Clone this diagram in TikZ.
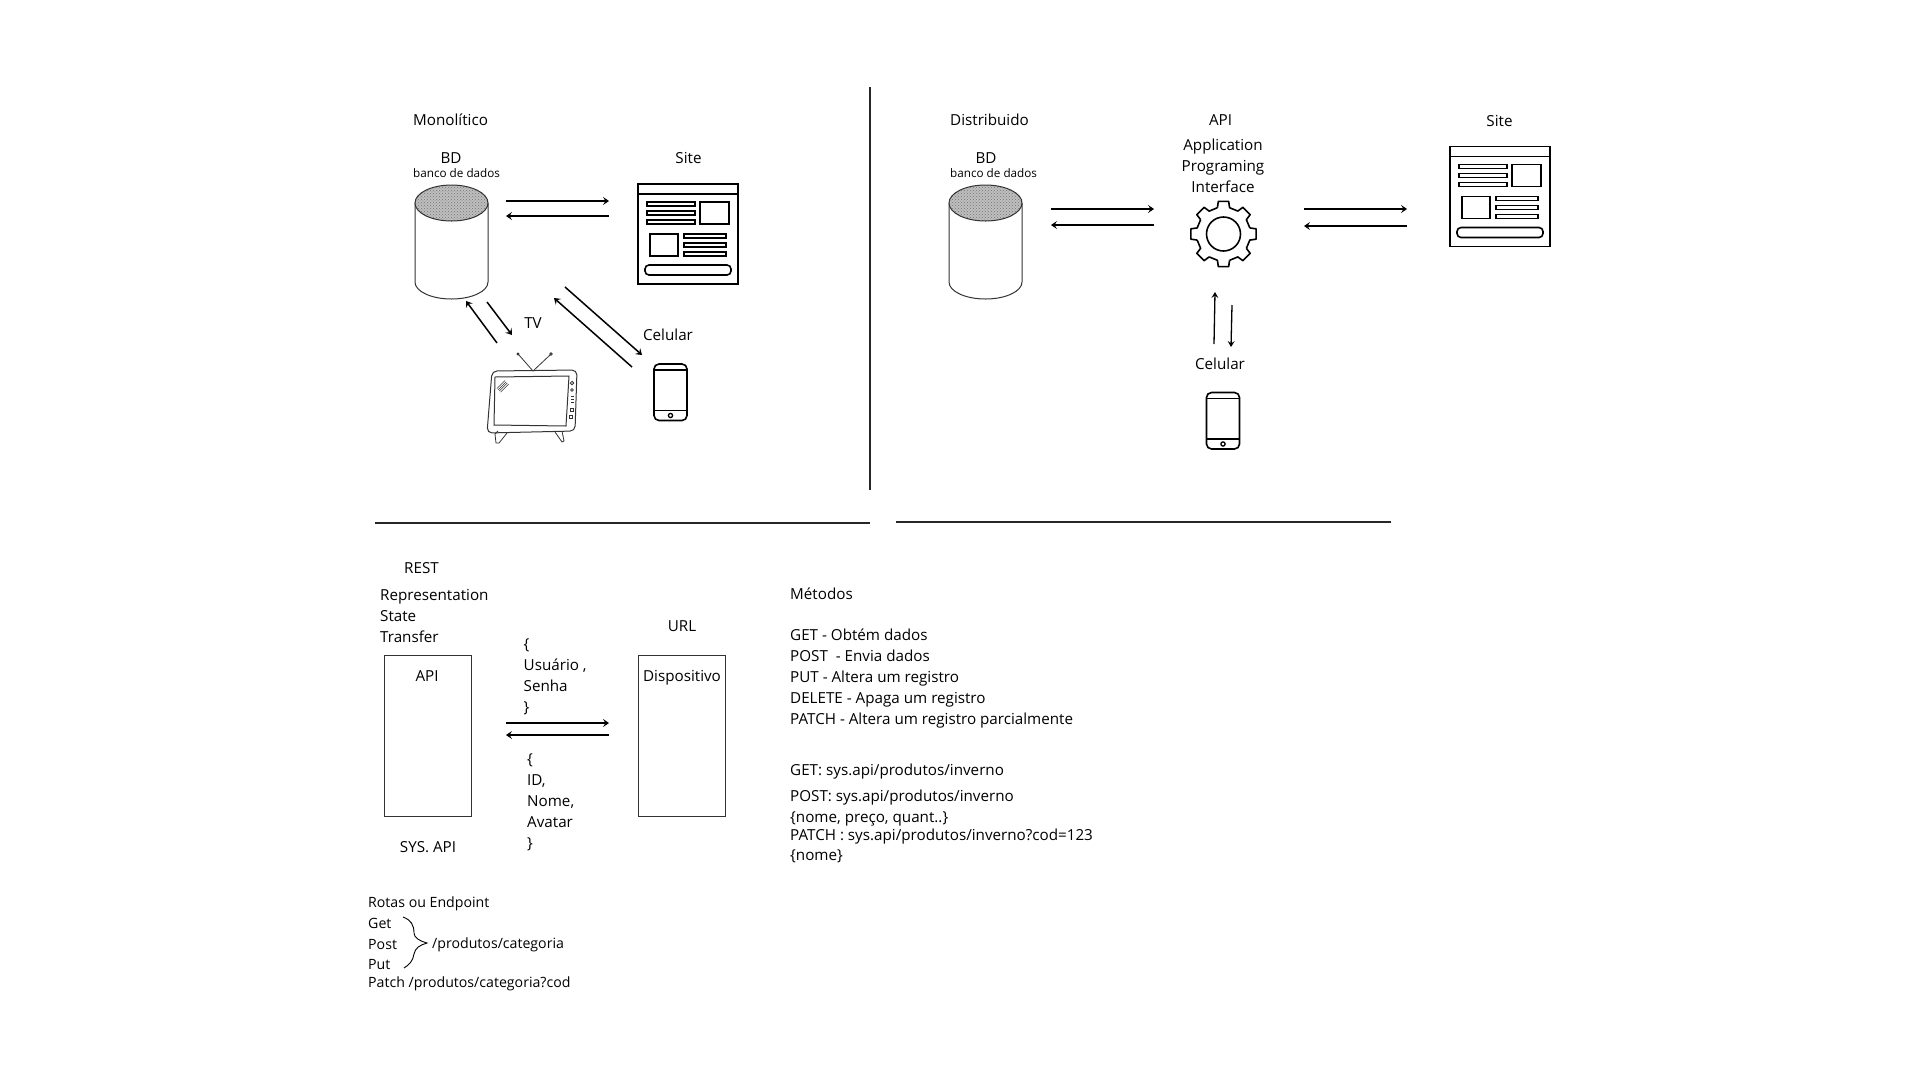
\documentclass[tikz,border=0pt]{standalone}
\usepackage{fontspec}
\setmainfont{Open Sans}
\usetikzlibrary{arrows.meta, positioning, patterns}

\tikzset{
    texto/.style={font=\fontsize{15.2}{21}\selectfont, inner sep=0pt, text height=11pt, text depth=0pt},
    textoesq/.style={texto, anchor=west},
    lista/.style={font=\fontsize{15.2}{21}\selectfont, inner sep=0pt, anchor=west, align=left},
    menor/.style={font=\fontsize{14.15}{20}\selectfont, inner sep=0pt, text height=10pt, text depth=0pt, anchor=west},
    miudo/.style={font=\fontsize{11.7}{15}\selectfont, inner sep=0pt, text height=9pt, text depth=0pt, anchor=west},
    seta/.style={-{Stealth[length=6pt,width=8pt,inset=2.5pt]}, line width=1.5pt},
    setafina/.style={-{Stealth[length=6pt,width=7pt,inset=2.5pt]}, line width=1.3pt},
    divisor/.style={line width=2pt, black!85},
    caixa/.style={draw, line width=1pt, black!80},
    %database centred on the top ellipse
    banco/.pic={
        \draw [line width=1pt, black!80] (-36.5,0) -- (-36.5,79) arc[start angle=180, end angle=360, x radius=36.5, y radius=-17] -- (36.5,0);
        \fill [black!25] (0,0) ellipse [x radius=36.5, y radius=18];
        \draw [line width=1pt, black!80, pattern=crosshatch dots, pattern color=black!55] (0,0) ellipse [x radius=36.5, y radius=18];
    },
    %browser window, from its top left corner
    janela/.pic={
        \begin{scope}[line width=1.6pt]
        \draw (0,0) rectangle (100,100);
        \draw (0,10) -- (100,10);
        \foreach \y in {18,27,36} \draw (9,\y) rectangle (57,\y+4);
        \draw (62,18) rectangle (91,40);
        \draw (12,50) rectangle (40,72);
        \foreach \y in {50,59,68} \draw (46,\y) rectangle (88,\y+4);
        \draw [rounded corners=4pt] (7,81) rectangle (93,91);
        \end{scope}
    },
    %phone, from its top left corner
    fone/.pic={
        \begin{scope}[line width=1.6pt]
        \draw [rounded corners=5pt] (0,0) rectangle (33,56.5);
        \draw (0,6) -- (33,6);
        \draw (0,46.5) -- (33,46.5);
        \draw [line width=1.3pt] (16.5,51.5) circle (2.1);
        \end{scope}
    },
}

\begin{document}
\begin{tikzpicture}[x=1pt, y=-1pt]
    \useasboundingbox (0,0) rectangle (1920,1080);

    %monolithic side
    \node (monolitico) [textoesq] at (413,120) {Monolítico};
    \node (bdA) [texto] at (451,158) {BD};
    \node (bancoA) [miudo] at (413,173) {banco de dados};
    \node (siteA) [texto] at (688.5,158) {Site};
    \node (tvA) [texto] at (533,323) {TV};
    \node (celularA) [texto] at (668,335) {Celular};
    \pic at (451.5,203) {banco};
    \pic at (638,184) {janela};
    \pic at (654,364) {fone};

    %television
    \begin{scope}[line width=.8pt, black!80]
        \draw [rounded corners=5pt, line width=1pt] (492,371) -- (577,370) -- (575,431) -- (487,433) -- cycle;
        \draw [line width=1pt] (495,377) -- (569,376) -- (566,426) -- (494,425) -- cycle;
        \draw (533,371) -- (518.5,354.5);
        \draw (533,371) -- (550,355);
        \draw (518,354) circle (1);
        \draw (551,354) circle (1.2);
        \draw (498,431) -- (495,434) -- (496,443) -- (499,443) -- (507,433);
        \draw (555,432) -- (562,442) -- (564,441) -- (562,431);
        \foreach \i in {0,1,2,3} \draw [line width=.5pt] (497+\i*1.2,388.5+\i*1.2) -- (505+\i*1.2,380.5+\i*1.2);
        \draw (572,383) circle (1.7);
        \draw (572,390) circle (1.4);
        \foreach \y in {396,399,402} \draw (570.5,\y) -- (573.5,\y);
        \draw (570,408) rectangle (573,411);
        \draw (569.5,415) rectangle (572.5,418);
    \end{scope}

    %arrow ends on the monolithic side
    \coordinate (bdsiteA) at (506,201);
    \coordinate (bdsiteB) at (609,201);
    \coordinate (sitebdA) at (609,216);
    \coordinate (sitebdB) at (506,216);
    \coordinate (tvbdA) at (497,343);
    \coordinate (tvbdB) at (466,301);
    \coordinate (bdtvA) at (487,302);
    \coordinate (bdtvB) at (512,335);
    \coordinate (bdcelA) at (565,287);
    \coordinate (bdcelB) at (642,355);
    \coordinate (celbdA) at (632,367);
    \coordinate (celbdB) at (554,298);

    \draw [seta] (bdsiteA) to (bdsiteB);
    \draw [seta] (sitebdA) to (sitebdB);
    \draw [seta] (tvbdA) to (tvbdB);
    \draw [seta] (bdtvA) to (bdtvB);
    \draw [seta] (bdcelA) to (bdcelB);
    \draw [seta] (celbdA) to (celbdB);

    %dividing lines
    \coordinate (vertA) at (870,87);
    \coordinate (vertB) at (870,490);
    \coordinate (horA) at (375,523);
    \coordinate (horB) at (870,523);
    \coordinate (horC) at (896,522);
    \coordinate (horD) at (1391,522);
    \draw [divisor] (vertA) to (vertB);
    \draw [divisor] (horA) to (horB);
    \draw [divisor] (horC) to (horD);

    %distributed side
    \node (distribuido) [textoesq] at (950,120) {Distribuido};
    \node (bdB) [texto] at (986,158) {BD};
    \node (bancoB) [miudo] at (950,173) {banco de dados};
    \node (api) [texto] at (1220.5,120) {API};
    \node (sigla) [texto, align=center, text height=, text depth=] at (1223,166) {Application\\Programing\\Interface};
    \node (siteB) [texto] at (1499.5,121) {Site};
    \node (celularB) [texto] at (1220,364) {Celular};
    \pic at (985.5,203) {banco};
    \pic at (1450,146.5) {janela};
    \pic at (1206.5,392.5) {fone};

    %gear
    \node (engrenagem) [circle, draw, line width=1.6pt, minimum size=34pt, inner sep=0pt] at (1223.5,234) {};
    \begin{scope}[shift={(engrenagem.center)}, line width=1.6pt, line join=round]
        \foreach \a in {0,45,...,315}
            \draw (\a-13:27) -- (\a-9:33) -- (\a+9:33) -- (\a+13:27) -- (\a+32:27);
    \end{scope}

    %arrow ends on the distributed side
    \coordinate (bdapiA) at (1051,209);
    \coordinate (bdapiB) at (1154,209);
    \coordinate (apibdA) at (1154,225);
    \coordinate (apibdB) at (1051,225);
    \coordinate (apisiteA) at (1304,209);
    \coordinate (apisiteB) at (1407,209);
    \coordinate (siteapiA) at (1407,226);
    \coordinate (siteapiB) at (1304,226);
    \coordinate (celapiA) at (1214,344);
    \coordinate (celapiB) at (1215,292);
    \coordinate (apicelA) at (1232,305);
    \coordinate (apicelB) at (1231,347);

    \draw [seta] (bdapiA) to (bdapiB);
    \draw [seta] (apibdA) to (apibdB);
    \draw [seta] (apisiteA) to (apisiteB);
    \draw [seta] (siteapiA) to (siteapiB);
    \draw [setafina] (celapiA) to (celapiB);
    \draw [setafina] (apicelA) to (apicelB);

    %rest part
    \node (rest) [texto] at (421.5,568) {REST};
    \node (sigrest) [lista] at (380,616) {Representation\\State\\Transfer};
    \node (url) [texto] at (682,626) {URL};
    \node (caixaapi) [caixa, minimum width=87pt, minimum height=161pt, inner sep=0pt] at (427.5,735.5) {};
    \node (caixadisp) [caixa, minimum width=87pt, minimum height=161pt, inner sep=0pt] at (681.5,735.5) {};
    \node (apitexto) [texto] at (427,676) {API};
    \node (dispositivo) [texto] at (682,676) {Dispositivo};
    \node (sysapi) [texto] at (428,847) {SYS. API};
    \node (envio) [lista] at (523.5,677) {\{\\Usuário ,\\Senha\\\}};
    \node (retorno) [lista] at (527,802) {\{\\ID,\\Nome,\\Avatar\\\}};

    \coordinate (apidispA) at (506,723);
    \coordinate (apidispB) at (609,723);
    \coordinate (dispapiA) at (609,735);
    \coordinate (dispapiB) at (506,735);
    \draw [seta] (apidispA) to (apidispB);
    \draw [seta] (dispapiA) to (dispapiB);

    %routes
    \node (rotas) [menor] at (368,902) {Rotas ou Endpoint};
    \node (get) [menor] at (368,923) {Get};
    \node (post) [menor] at (368,944) {Post};
    \node (put) [menor] at (368,964) {Put};
    \node (patch) [menor] at (368,982) {Patch /produtos/categoria?cod};
    \node (categoria) [menor] at (432,943) {/produtos/categoria};
    \draw [line width=.9pt] (403,917) .. controls (411,920) and (414,925) .. (414,933) .. controls (414,938) and (420,941) .. (427,943) .. controls (420,945) and (415,948) .. (414,954) .. controls (413,961) and (409,965) .. (404,968);

    %methods
    \node (metodos) [textoesq] at (790,594) {Métodos};
    \node (listametodos) [lista] at (790,678) {GET - Obtém dados\\POST~ - Envia dados\\PUT - Altera um registro\\DELETE - Apaga um registro\\PATCH - Altera um registro parcialmente};
    \node (getrota) [textoesq] at (790,770) {GET: sys.api/produtos/inverno};
    \node (postrota) [textoesq] at (790,796) {POST: sys.api/produtos/inverno};
    \node (postcorpo) [textoesq] at (790,817) {\{nome, preço, quant..\}};
    \node (patchrota) [textoesq] at (790,835) {PATCH : sys.api/produtos/inverno?cod=123};
    \node (patchcorpo) [textoesq] at (790,855) {\{nome\}};
\end{tikzpicture}
\end{document}
